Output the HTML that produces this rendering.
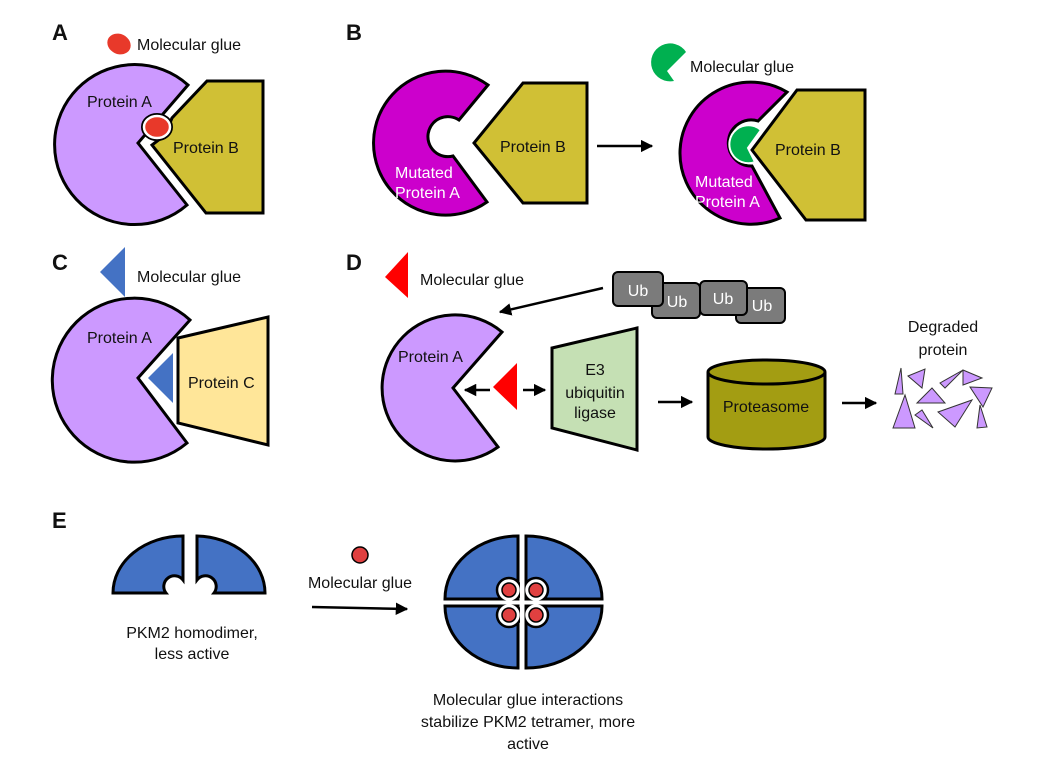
<!DOCTYPE html>
<html><head><meta charset="utf-8"><style>
html,body{margin:0;padding:0;background:#fff}
svg{display:block}
text{font-family:"Liberation Sans",Arial,sans-serif;font-size:16px;fill:#111}
.b{font-weight:bold;font-size:22px}
.w{fill:#fff}
</style></head><body>
<svg width="1050" height="771" viewBox="0 0 1050 771" xmlns="http://www.w3.org/2000/svg">
<defs>
<marker id="ah" viewBox="0 0 10 10" refX="9" refY="5" markerWidth="5" markerHeight="5" orient="auto"><path d="M0,0 L10,5 L0,10 Z" fill="#000"/></marker>
</defs>
<g stroke="#000" stroke-width="3" stroke-linejoin="miter">
<!-- A -->
<path d="M188,85 A80 80 0 1 0 187,205 L138,143 Z" fill="#cc99ff"/>
<path d="M207,81 L263,81 L263,213 L206,213 L152,145 L165,135 L172,118 Z" fill="#d0c035"/>
<ellipse cx="157" cy="127" rx="13" ry="11" fill="#e8392a" stroke="#000" stroke-width="6"/>
<ellipse cx="157" cy="127" rx="13" ry="11" fill="#e8392a" stroke="#fff" stroke-width="2.5"/>
<!-- B left -->
<path d="M488,85 A72 72 0 1 0 487,202 L453,156 A20 20 0 1 1 459,120 Z" fill="#cc00cc"/>
<path d="M523,83 L587,83 L587,203 L523,203 L474,143 Z" fill="#d0c035"/>
<!-- B right -->
<path d="M787,92 A71 71 0 1 0 780,218 L752,166 A23 23 0 1 1 758,121 Z" fill="#cc00cc"/>
<path d="M797,90 L865,90 L865,220 L806,220 L752,150 Z" fill="#d0c035"/>
<!-- C -->
<path d="M190,320 A82 82 0 1 0 187,443 L138,378 Z" fill="#cc99ff"/>
<path d="M178,338 L268,317 L268,445 L178,423 Z" fill="#ffe699"/>
<!-- D -->
<path d="M502,332 A73 73 0 1 0 498,447 L453,388 Z" fill="#cc99ff"/>
<path d="M552,348 L637,328 L637,450 L552,428 Z" fill="#c5e0b4"/>
<path d="M708,372 L708,437 A58.5 12 0 0 0 825,437 L825,372" fill="#a39d12"/>
<ellipse cx="766.5" cy="372" rx="58.5" ry="12" fill="#a39d12"/>
<!-- Ub -->
<rect x="652" y="283" width="48" height="35" rx="5" fill="#7b7b7b" stroke-width="2"/>
<rect x="736" y="288" width="49" height="35" rx="5" fill="#7b7b7b" stroke-width="2"/>
<rect x="613" y="272" width="50" height="34" rx="5" fill="#7b7b7b" stroke-width="2"/>
<rect x="700" y="281" width="47" height="34" rx="5" fill="#7b7b7b" stroke-width="2"/>
</g>
<!-- glue shapes -->
<path d="M686,52 A19 19 0 1 0 674,81 L667,71 Z" fill="#00b050"/>
<path d="M761,130 A19 19 0 1 0 755,162 L748,148 Z" fill="#00b050" stroke="#fff" stroke-width="2"/>
<path d="M100,272 L125,247 L125,297 Z" fill="#4472c4"/>
<path d="M148,378 L173,353 L173,403 Z" fill="#4472c4"/>
<ellipse cx="119" cy="44" rx="12" ry="10" fill="#e8392a" transform="rotate(25 119 44)"/>
<path d="M385,277 L408,252 L408,298 Z" fill="#ff0000"/>
<path d="M493,387 L517,363 L517,410 Z" fill="#ff0000"/>
<!-- arrows -->
<g stroke="#000" stroke-width="2.5" fill="none" marker-end="url(#ah)">
<line x1="597" y1="146" x2="652" y2="146"/>
<line x1="603" y1="288" x2="500" y2="312"/>
<line x1="490" y1="390" x2="465" y2="390"/>
<line x1="523" y1="390" x2="545" y2="390"/>
<line x1="658" y1="402" x2="692" y2="402"/>
<line x1="842" y1="403" x2="876" y2="403"/>
<line x1="312" y1="607" x2="407" y2="609"/>
</g>
<!-- degraded -->
<g fill="#cc99ff" stroke="#333" stroke-width="1">
<path d="M895,394 L901,368 L903,394 Z"/>
<path d="M908,376 L925,369 L922,388 Z"/>
<path d="M940,383 L963,370 L945,388 Z"/>
<path d="M963,370 L982,378 L963,385 Z"/>
<path d="M917,403 L932,388 L945,403 Z"/>
<path d="M970,387 L992,388 L983,407 Z"/>
<path d="M893,428 L905,395 L915,428 Z"/>
<path d="M915,415 L922,410 L933,428 Z"/>
<path d="M938,412 L972,400 L955,427 Z"/>
<path d="M977,428 L980,405 L987,427 Z"/>
</g>
<!-- E dimer -->
<g fill="#4472c4" stroke="#000" stroke-width="3">
<path d="M183,536 A70 57 0 0 0 113,593 L166,593 A10 10 0 0 1 183,580 Z"/>
<path d="M197,536 A70 57 0 0 1 265,593 L214,593 A10 10 0 0 0 197,580 Z"/>
<!-- tetramer -->
<path d="M518,536 A73 63 0 0 0 445,599 L518,599 Z"/>
<path d="M526,536 A76 63 0 0 1 602,599 L526,599 Z"/>
<path d="M445,606 A73 62 0 0 0 518,668 L518,606 Z"/>
<path d="M602,606 A76 62 0 0 1 526,668 L526,606 Z"/>
</g>
<g stroke="#000" stroke-width="2.5" fill="#fff">
<circle cx="509" cy="590" r="12"/><circle cx="536" cy="590" r="12"/>
<circle cx="509" cy="615" r="12"/><circle cx="536" cy="615" r="12"/>
</g>
<rect x="520" y="570" width="4.5" height="60" fill="#fff"/>
<rect x="490" y="600.5" width="65" height="4" fill="#fff"/>
<g fill="#e04040" stroke="#000" stroke-width="1.5">
<circle cx="509" cy="590" r="7"/><circle cx="536" cy="590" r="7"/>
<circle cx="509" cy="615" r="7"/><circle cx="536" cy="615" r="7"/>
<circle cx="360" cy="555" r="8"/>
</g>
<!-- labels -->
<text class="b" x="52" y="40">A</text>
<text class="b" x="346" y="40">B</text>
<text class="b" x="52" y="270">C</text>
<text class="b" x="346" y="270">D</text>
<text class="b" x="52" y="528">E</text>
<text x="137" y="50">Molecular glue</text>
<text x="87" y="107">Protein A</text>
<text x="173" y="153">Protein B</text>
<text class="w" x="395" y="178">Mutated</text>
<text class="w" x="395" y="198">Protein A</text>
<text x="500" y="152">Protein B</text>
<text x="690" y="72">Molecular glue</text>
<text x="775" y="155">Protein B</text>
<text class="w" x="695" y="187">Mutated</text>
<text class="w" x="695" y="207">Protein A</text>
<text x="137" y="282">Molecular glue</text>
<text x="87" y="343">Protein A</text>
<text x="188" y="388">Protein C</text>
<text x="420" y="285">Molecular glue</text>
<text x="398" y="362">Protein A</text>
<text class="w" x="638" y="296" text-anchor="middle">Ub</text>
<text class="w" x="677" y="307" text-anchor="middle">Ub</text>
<text class="w" x="723" y="304" text-anchor="middle">Ub</text>
<text class="w" x="762" y="311" text-anchor="middle">Ub</text>
<g text-anchor="middle">
<text x="595" y="375">E3</text>
<text x="595" y="398">ubiquitin</text>
<text x="595" y="418">ligase</text>
<text x="766" y="412">Proteasome</text>
<text x="943" y="332">Degraded</text>
<text x="943" y="355">protein</text>
<text x="192" y="638">PKM2 homodimer,</text>
<text x="192" y="659">less active</text>
<text x="360" y="588">Molecular glue</text>
<text x="528" y="705">Molecular glue interactions</text>
<text x="528" y="727">stabilize PKM2 tetramer, more</text>
<text x="528" y="749">active</text>
</g>
</svg>
</body></html>
